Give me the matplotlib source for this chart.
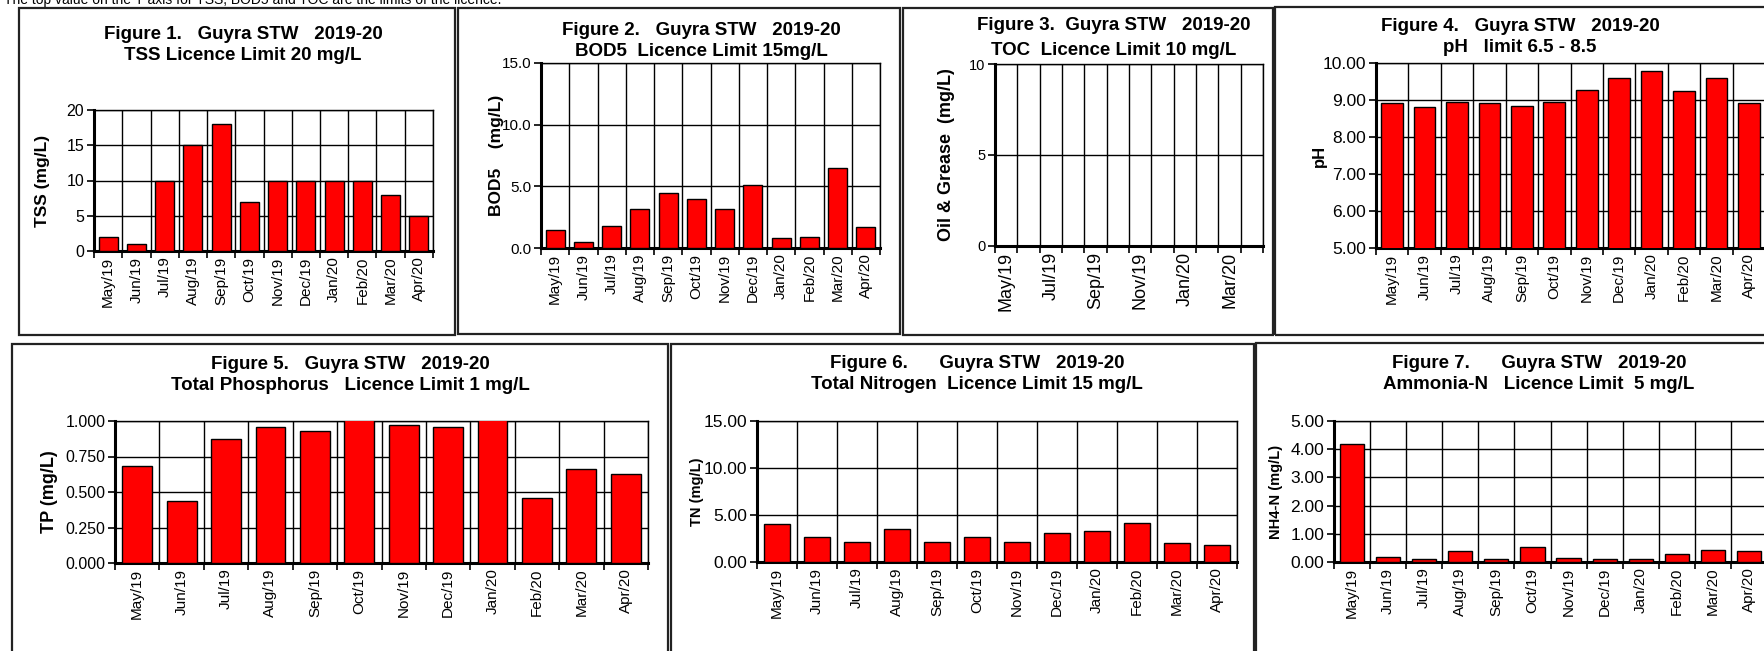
import matplotlib.pyplot as plt
from matplotlib.patches import Rectangle

plt.rcParams['font.family'] = ['Liberation Sans', 'DejaVu Sans']

W, H = 1764, 651

months = ['May/19', 'Jun/19', 'Jul/19', 'Aug/19', 'Sep/19', 'Oct/19',
          'Nov/19', 'Dec/19', 'Jan/20', 'Feb/20', 'Mar/20', 'Apr/20']

# monthly results
tss = [2, 1, 10, 15, 18, 7, 10, 10, 10, 10, 8, 5]
bod5 = [1.5, 0.5, 1.8, 3.2, 4.5, 4.0, 3.2, 5.1, 0.8, 0.9, 6.5, 1.7]
toc = []  # no TOC results this year
ph = [8.92, 8.81, 8.95, 8.92, 8.85, 8.95, 9.27, 9.59, 9.78, 9.24, 9.59, 8.92]
tp = [0.68, 0.44, 0.87, 0.96, 0.93, 1.08, 0.97, 0.96, 1.08, 0.46, 0.66, 0.63]
tn = [4.05, 2.7, 2.15, 3.55, 2.1, 2.7, 2.1, 3.1, 3.25, 4.2, 2.0, 1.8]
nh4 = [4.18, 0.19, 0.1, 0.38, 0.1, 0.52, 0.15, 0.1, 0.1, 0.29, 0.43, 0.39]

toc_labels = ['May/19', '', 'Jul/19', '', 'Sep/19', '', 'Nov/19', '',
              'Jan/20', '', 'Mar/20', '']

fig = plt.figure(figsize=(W / 100, H / 100), dpi=100)

fig.text(4 / W, 1 - 4 / H,
         'The top value on the Y axis for TSS, BOD5 and TOC are the limits of the licence.',
         fontsize=10, va='baseline', ha='left')

# frames round each chart
for (l, t, r, b) in [(19, 8, 455, 335), (458, 8, 900, 334), (903, 8, 1273, 335),
                     (1275, 7, 1790, 335), (12, 344, 668, 680), (671, 344, 1254, 680),
                     (1256, 343, 1790, 680)]:
    fig.add_artist(Rectangle((l / W, 1 - b / H), (r - l) / W, (b - t) / H,
                             transform=fig.transFigure, fill=False,
                             edgecolor='#222222', lw=1.6))


def panel(box, values, ylim, yticks, fmt, title, tx, ty, ylab, lx, lsize,
          labels=months, tick_fs=11, lab_fs=11, title_fs=13.5, lsp=1.25):
    l, t, r, b = box
    ax = fig.add_axes([l / W, 1 - b / H, (r - l) / W, (b - t) / H])
    x = list(range(12))
    if values:
        ax.bar(x[:len(values)], values, width=0.67, color='#ff0000',
               edgecolor='black', lw=1, zorder=3)
    ax.set_xlim(-0.5, 11.5)
    ax.set_ylim(*ylim)
    ax.set_yticks(yticks)
    ax.set_yticklabels([fmt.format(v) for v in yticks], fontsize=tick_fs)
    ax.set_xticks([i - 0.5 for i in range(13)])
    ax.set_xticklabels([])
    ax.set_xticks(x, minor=True)
    ax.set_xticklabels(labels, minor=True, rotation=90, fontsize=lab_fs)
    ax.tick_params(axis='x', which='minor', length=0, pad=4)
    ax.tick_params(axis='x', which='major', length=5, width=1.2, direction='out')
    ax.tick_params(axis='y', length=5, width=1.2, direction='out', pad=2)
    ax.grid(True, which='major', color='black', lw=1, zorder=0)
    ax.set_axisbelow(True)
    for s in ['left', 'bottom']:
        ax.spines[s].set_linewidth(2.2)
    for s in ['top', 'right']:
        ax.spines[s].set_linewidth(1)
    fig.text(tx / W, 1 - ty / H, title, ha='center', va='center',
             fontsize=title_fs, fontweight='bold', linespacing=lsp)
    fig.text(lx / W, 1 - ((t + b) / 2) / H, ylab, rotation=90, ha='center',
             va='center', fontsize=lsize, fontweight='bold')
    return ax


panel((94, 110, 433, 251), tss, (0, 20), [0, 5, 10, 15, 20], '{:.0f}',
      'Figure 1.   Guyra STW   2019-20\nTSS Licence Limit 20 mg/L', 243, 45,
      'TSS (mg/L)', 43, 12.5, tick_fs=11.5)

panel((541, 63, 880, 248), bod5, (0, 15), [0, 5, 10, 15], '{:.1f}',
      'Figure 2.   Guyra STW   2019-20\nBOD5  Licence Limit 15mg/L', 701, 41,
      'BOD5    (mg/L)', 497, 12.5)

panel((995, 64, 1263, 246), toc, (0, 10), [0, 5, 10], '{:.0f}',
      'Figure 3.  Guyra STW   2019-20\nTOC  Licence Limit 10 mg/L', 1114, 38,
      'Oil & Grease  (mg/L)', 947, 13, labels=toc_labels, lab_fs=13, tick_fs=10.5,
      lsp=1.55)

panel((1376, 63, 1765, 248), ph, (5, 10), [5, 6, 7, 8, 9, 10], '{:.2f}',
      'Figure 4.   Guyra STW   2019-20\npH   limit 6.5 - 8.5', 1520, 37,
      'pH', 1319, 12, tick_fs=12.5)

panel((115, 421, 648, 563), tp, (0, 1), [0, 0.25, 0.5, 0.75, 1.0], '{:.3f}',
      'Figure 5.   Guyra STW   2019-20\nTotal Phosphorus   Licence Limit 1 mg/L', 350, 375,
      'TP (mg/L)', 50, 13, tick_fs=11.5)

panel((757, 421, 1237, 562), tn, (0, 15), [0, 5, 10, 15], '{:.2f}',
      'Figure 6.      Guyra STW   2019-20\nTotal Nitrogen  Licence Limit 15 mg/L', 977, 374,
      'TN (mg/L)', 697, 10.5, tick_fs=12.5)

panel((1334, 421, 1767, 562), nh4, (0, 5), [0, 1, 2, 3, 4, 5], '{:.2f}',
      'Figure 7.      Guyra STW   2019-20\nAmmonia-N   Licence Limit  5 mg/L', 1539, 374,
      'NH4-N (mg/L)', 1276, 10.5, tick_fs=12.5)

fig.savefig('out.png', dpi=100)
